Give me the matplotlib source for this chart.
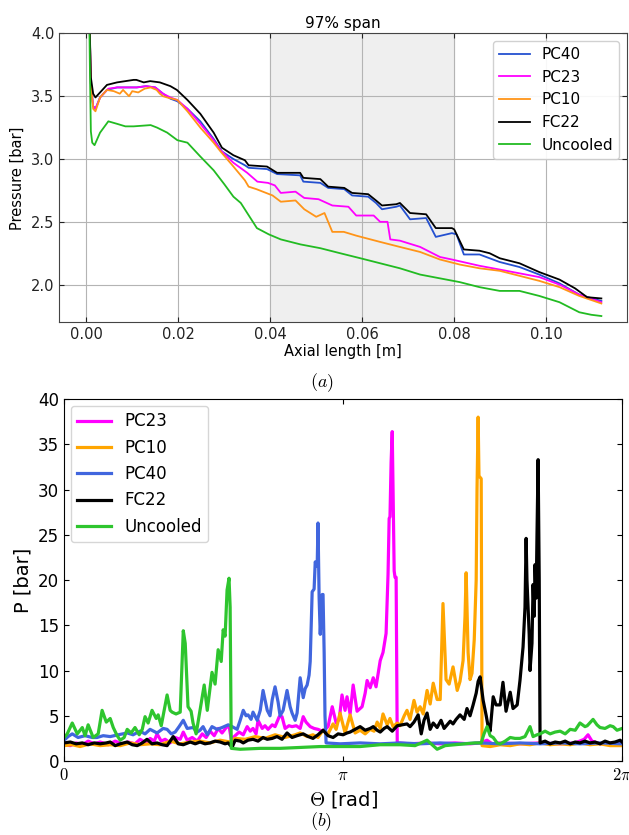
import numpy as np
import matplotlib
matplotlib.use("Agg")
import matplotlib.pyplot as plt

# ---- (a) pressure along axial length, 97% span: (x [m], p [bar]) ----
pc40_a = [(0.0006, 4.30), (0.0010, 3.60), (0.0015, 3.42), (0.0020, 3.40), (0.0030, 3.49),
          (0.0045, 3.55), (0.0067, 3.57), (0.0090, 3.57), (0.0110, 3.57), (0.0130, 3.58),
          (0.0150, 3.57), (0.0167, 3.52), (0.0183, 3.48), (0.0198, 3.46), (0.0220, 3.40),
          (0.0248, 3.30), (0.0277, 3.16), (0.0295, 3.06), (0.0320, 3.00), (0.0345, 2.95),
          (0.0353, 2.93), (0.0393, 2.92), (0.0415, 2.88), (0.0465, 2.87), (0.0472, 2.82),
          (0.0509, 2.81), (0.0526, 2.77), (0.0561, 2.76), (0.0578, 2.71), (0.0613, 2.70),
          (0.0630, 2.65), (0.0643, 2.60), (0.0674, 2.62), (0.0682, 2.63), (0.0704, 2.52),
          (0.0739, 2.53), (0.0760, 2.38), (0.0795, 2.41), (0.0805, 2.40), (0.0821, 2.24),
          (0.0855, 2.24), (0.0899, 2.18), (0.0942, 2.14), (0.0985, 2.08), (0.1029, 2.01),
          (0.1072, 1.92), (0.1120, 1.87)]
pc23_a = [(0.0006, 4.30), (0.0010, 3.60), (0.0015, 3.42), (0.0020, 3.40), (0.0030, 3.49),
          (0.0048, 3.56), (0.0067, 3.57), (0.0090, 3.57), (0.0110, 3.57), (0.0130, 3.58),
          (0.0150, 3.57), (0.0167, 3.52), (0.0183, 3.49), (0.0198, 3.47), (0.0220, 3.40),
          (0.0248, 3.28), (0.0277, 3.15), (0.0292, 3.07), (0.0320, 2.97), (0.0350, 2.89),
          (0.0372, 2.82), (0.0395, 2.81), (0.0410, 2.79), (0.0423, 2.73), (0.0455, 2.74),
          (0.0474, 2.69), (0.0505, 2.68), (0.0535, 2.63), (0.0570, 2.62), (0.0587, 2.55),
          (0.0625, 2.55), (0.0639, 2.50), (0.0655, 2.50), (0.0661, 2.36), (0.0682, 2.35),
          (0.0726, 2.30), (0.0769, 2.22), (0.0795, 2.20), (0.0855, 2.15), (0.0899, 2.12),
          (0.0942, 2.09), (0.0985, 2.06), (0.1029, 2.00), (0.1072, 1.92), (0.1120, 1.86)]
pc10_a = [(0.0006, 4.30), (0.0010, 3.60), (0.0015, 3.40), (0.0020, 3.38), (0.0030, 3.49),
          (0.0045, 3.55), (0.0060, 3.54), (0.0073, 3.52), (0.0080, 3.55), (0.0093, 3.50),
          (0.0100, 3.54), (0.0113, 3.53), (0.0127, 3.56), (0.0140, 3.57), (0.0153, 3.55),
          (0.0160, 3.52), (0.0167, 3.50), (0.0176, 3.49), (0.0198, 3.47), (0.0220, 3.38),
          (0.0248, 3.25), (0.0277, 3.13), (0.0292, 3.06), (0.0320, 2.94), (0.0345, 2.83),
          (0.0353, 2.78), (0.0370, 2.76), (0.0405, 2.71), (0.0423, 2.66), (0.0455, 2.67),
          (0.0474, 2.60), (0.0500, 2.54), (0.0518, 2.57), (0.0535, 2.42), (0.0560, 2.42),
          (0.0587, 2.39), (0.0639, 2.34), (0.0682, 2.30), (0.0726, 2.26), (0.0769, 2.20),
          (0.0812, 2.16), (0.0855, 2.13), (0.0899, 2.11), (0.0942, 2.07), (0.0985, 2.03),
          (0.1029, 1.98), (0.1072, 1.91), (0.1120, 1.85)]
fc22_a = [(0.0006, 4.30), (0.0010, 3.65), (0.0015, 3.52), (0.0020, 3.49), (0.0030, 3.53),
          (0.0045, 3.59), (0.0067, 3.61), (0.0085, 3.62), (0.0103, 3.63), (0.0109, 3.63),
          (0.0125, 3.61), (0.0139, 3.62), (0.0160, 3.61), (0.0183, 3.58), (0.0197, 3.55),
          (0.0220, 3.47), (0.0248, 3.36), (0.0277, 3.21), (0.0295, 3.09), (0.0320, 3.03),
          (0.0345, 2.99), (0.0353, 2.95), (0.0393, 2.94), (0.0415, 2.89), (0.0465, 2.89),
          (0.0472, 2.85), (0.0509, 2.84), (0.0526, 2.78), (0.0561, 2.77), (0.0578, 2.73),
          (0.0613, 2.72), (0.0630, 2.67), (0.0643, 2.63), (0.0674, 2.64), (0.0682, 2.65),
          (0.0704, 2.57), (0.0739, 2.56), (0.0760, 2.45), (0.0795, 2.45), (0.0800, 2.44),
          (0.0821, 2.28), (0.0855, 2.27), (0.0877, 2.25), (0.0899, 2.21), (0.0942, 2.17),
          (0.0985, 2.10), (0.1029, 2.04), (0.1063, 1.97), (0.1089, 1.90), (0.1120, 1.89)]
uncooled_a = [(0.0006, 4.30), (0.0008, 3.70), (0.0010, 3.22), (0.0013, 3.13), (0.0018, 3.11),
              (0.0030, 3.21), (0.0048, 3.30), (0.0067, 3.28), (0.0085, 3.26), (0.0103, 3.26),
              (0.0140, 3.27), (0.0154, 3.25), (0.0176, 3.21), (0.0198, 3.15), (0.0220, 3.13),
              (0.0248, 3.02), (0.0277, 2.91), (0.0300, 2.80), (0.0320, 2.70), (0.0336, 2.65),
              (0.0371, 2.45), (0.0397, 2.40), (0.0423, 2.36), (0.0466, 2.32), (0.0509, 2.29),
              (0.0552, 2.25), (0.0596, 2.21), (0.0639, 2.17), (0.0682, 2.13), (0.0726, 2.08),
              (0.0769, 2.05), (0.0812, 2.02), (0.0855, 1.98), (0.0899, 1.95), (0.0942, 1.95),
              (0.0985, 1.91), (0.1029, 1.86), (0.1072, 1.78), (0.1098, 1.76), (0.1120, 1.75)]

# ---- (b) pressure around the circumference: (theta / pi, p [bar]) ----
pc23_b = [(0.000, 1.8), (0.022, 1.7), (0.043, 2.0), (0.065, 1.8), (0.086, 2.2), (0.108, 1.9),
          (0.129, 2.1), (0.158, 1.8), (0.183, 2.2), (0.208, 1.9), (0.229, 2.1), (0.254, 1.9),
          (0.272, 2.4), (0.294, 2.0), (0.308, 2.5), (0.323, 2.2), (0.333, 3.0), (0.348, 2.2),
          (0.362, 2.4), (0.380, 2.0), (0.398, 2.6), (0.416, 2.4), (0.427, 3.2), (0.441, 2.3),
          (0.459, 2.6), (0.477, 2.2), (0.495, 3.0), (0.509, 2.6), (0.523, 3.3), (0.538, 2.8),
          (0.552, 3.6), (0.566, 3.1), (0.581, 3.7), (0.591, 3.9), (0.599, 2.4), (0.613, 2.8),
          (0.627, 3.2), (0.642, 2.9), (0.656, 3.8), (0.667, 3.3), (0.677, 3.6), (0.688, 3.0),
          (0.695, 4.5), (0.710, 3.6), (0.720, 3.9), (0.731, 3.5), (0.746, 4.0), (0.756, 3.8),
          (0.771, 4.9), (0.781, 4.9), (0.792, 3.6), (0.806, 3.9), (0.817, 3.8), (0.832, 3.9),
          (0.846, 3.6), (0.857, 4.9), (0.867, 4.3), (0.882, 3.8), (0.896, 3.6), (0.910, 3.5),
          (0.925, 3.3), (0.935, 3.5), (0.946, 3.8), (0.961, 6.0), (0.975, 4.2), (0.986, 4.6),
          (0.996, 7.3), (1.007, 5.6), (1.014, 7.1), (1.025, 5.2), (1.036, 8.4), (1.050, 5.5),
          (1.068, 6.0), (1.079, 7.5), (1.086, 8.9), (1.097, 8.1), (1.108, 9.2), (1.118, 8.2),
          (1.133, 11.1), (1.143, 12.0), (1.154, 14.1), (1.161, 20.6), (1.165, 26.8),
          (1.168, 27.0), (1.172, 33.0), (1.176, 36.4), (1.179, 30.0), (1.183, 21.0),
          (1.186, 20.3), (1.190, 20.3), (1.194, 2.0), (1.240, 1.9), (1.294, 2.0), (1.348, 1.9),
          (1.401, 2.0), (1.455, 1.9), (1.491, 2.0), (1.516, 2.3), (1.534, 1.9), (1.563, 2.0),
          (1.634, 1.9), (1.706, 2.0), (1.778, 1.9), (1.832, 2.0), (1.864, 2.4), (1.878, 2.9),
          (1.892, 2.2), (1.921, 1.9), (1.964, 2.0), (2.000, 1.9)]
pc10_b = [(0.000, 1.7), (0.029, 1.8), (0.057, 1.6), (0.093, 1.9), (0.129, 1.7), (0.165, 1.8),
          (0.201, 1.7), (0.237, 2.0), (0.272, 1.8), (0.308, 1.9), (0.344, 1.8), (0.380, 2.2),
          (0.416, 1.9), (0.452, 2.1), (0.487, 2.2), (0.523, 2.0), (0.559, 2.3), (0.595, 2.1),
          (0.613, 2.5), (0.649, 2.4), (0.685, 2.7), (0.720, 2.5), (0.756, 2.9), (0.792, 2.6),
          (0.828, 2.9), (0.846, 3.1), (0.871, 2.7), (0.892, 2.9), (0.910, 2.6), (0.928, 3.4),
          (0.946, 3.0), (0.964, 4.1), (0.975, 3.5), (0.989, 5.3), (1.007, 3.1), (1.025, 5.1),
          (1.043, 3.1), (1.061, 3.4), (1.079, 3.0), (1.097, 3.5), (1.111, 3.3), (1.122, 4.3),
          (1.133, 3.6), (1.143, 5.2), (1.158, 4.0), (1.168, 4.7), (1.179, 3.8), (1.194, 4.2),
          (1.204, 3.9), (1.219, 5.0), (1.229, 5.6), (1.240, 4.6), (1.254, 6.7), (1.265, 5.4),
          (1.276, 6.0), (1.287, 5.2), (1.301, 7.8), (1.312, 6.3), (1.323, 8.6), (1.337, 6.8),
          (1.348, 6.8), (1.358, 17.4), (1.369, 9.0), (1.380, 8.5), (1.394, 10.4), (1.409, 7.8),
          (1.419, 8.8), (1.430, 11.1), (1.437, 16.0), (1.441, 20.8), (1.448, 12.0),
          (1.455, 9.0), (1.462, 9.7), (1.470, 13.4), (1.477, 20.0), (1.480, 30.0),
          (1.484, 38.0), (1.487, 31.5), (1.495, 31.2), (1.498, 1.7), (1.527, 1.6), (1.563, 1.8),
          (1.599, 1.7), (1.634, 1.9), (1.670, 1.8), (1.706, 2.0), (1.742, 1.8), (1.778, 1.9),
          (1.814, 1.8), (1.849, 2.0), (1.885, 1.8), (1.921, 1.9), (1.957, 1.7), (2.000, 1.7)]
pc40_b = [(0.000, 2.3), (0.014, 2.7), (0.029, 3.0), (0.050, 2.6), (0.075, 2.8), (0.100, 2.6),
          (0.118, 2.6), (0.140, 2.8), (0.165, 2.7), (0.194, 2.9), (0.226, 3.1), (0.247, 2.9),
          (0.272, 3.3), (0.290, 3.0), (0.308, 3.5), (0.333, 3.1), (0.355, 3.6), (0.369, 3.5),
          (0.384, 3.0), (0.398, 3.2), (0.412, 3.8), (0.427, 4.5), (0.441, 3.6), (0.462, 3.7),
          (0.477, 3.2), (0.487, 3.4), (0.498, 3.8), (0.513, 2.9), (0.530, 3.8), (0.548, 3.5),
          (0.566, 3.7), (0.588, 4.0), (0.602, 3.8), (0.620, 3.5), (0.631, 4.5), (0.642, 5.6),
          (0.652, 5.0), (0.659, 5.1), (0.670, 4.6), (0.677, 5.4), (0.692, 4.5), (0.703, 5.6),
          (0.713, 7.8), (0.728, 5.6), (0.738, 5.0), (0.746, 6.8), (0.756, 8.2), (0.767, 6.5),
          (0.774, 5.0), (0.785, 5.6), (0.799, 7.8), (0.810, 6.0), (0.817, 5.3), (0.828, 4.5),
          (0.835, 5.3), (0.846, 9.2), (0.857, 7.0), (0.864, 8.0), (0.871, 8.4), (0.878, 9.5),
          (0.882, 11.0), (0.889, 18.7), (0.896, 19.0), (0.900, 22.0), (0.907, 21.5),
          (0.910, 26.3), (0.914, 18.0), (0.918, 14.0), (0.921, 16.0), (0.925, 18.4),
          (0.928, 18.4), (0.932, 12.0), (0.935, 5.0), (0.939, 2.0), (0.989, 1.9), (1.061, 2.0),
          (1.133, 1.9), (1.204, 2.0), (1.276, 1.9), (1.348, 2.0), (1.419, 1.9), (1.491, 2.0),
          (1.563, 1.9), (1.634, 2.0), (1.706, 1.9), (1.778, 2.0), (1.849, 1.9), (1.921, 2.0),
          (2.000, 1.9)]
fc22_b = [(0.000, 2.0), (0.022, 2.1), (0.043, 1.9), (0.065, 2.0), (0.086, 1.8), (0.108, 2.0),
          (0.129, 1.9), (0.151, 2.0), (0.165, 2.1), (0.183, 1.7), (0.201, 1.9), (0.226, 2.1),
          (0.244, 1.8), (0.262, 1.7), (0.280, 2.0), (0.297, 2.4), (0.315, 1.9), (0.333, 2.0),
          (0.351, 1.8), (0.369, 1.7), (0.391, 2.7), (0.409, 1.9), (0.427, 1.8), (0.452, 2.1),
          (0.470, 1.9), (0.487, 2.1), (0.505, 1.9), (0.523, 2.0), (0.541, 2.2), (0.559, 2.1),
          (0.577, 1.9), (0.588, 2.0), (0.602, 1.5), (0.613, 2.3), (0.631, 2.2), (0.642, 2.0),
          (0.659, 2.3), (0.677, 2.4), (0.695, 2.2), (0.713, 2.6), (0.728, 2.4), (0.746, 2.5),
          (0.763, 2.7), (0.781, 2.4), (0.799, 3.1), (0.817, 2.6), (0.835, 2.8), (0.857, 3.0),
          (0.875, 2.7), (0.892, 2.5), (0.910, 2.9), (0.928, 3.4), (0.946, 2.8), (0.964, 2.6),
          (0.982, 3.0), (1.000, 2.9), (1.014, 3.1), (1.025, 3.2), (1.043, 3.5), (1.061, 3.8),
          (1.079, 3.4), (1.097, 3.6), (1.108, 3.8), (1.122, 3.4), (1.133, 3.2), (1.147, 3.6),
          (1.158, 3.8), (1.176, 3.3), (1.194, 3.9), (1.211, 4.0), (1.229, 4.1), (1.240, 3.8),
          (1.254, 4.3), (1.269, 5.1), (1.280, 3.0), (1.290, 4.5), (1.301, 5.3), (1.312, 3.5),
          (1.323, 4.2), (1.337, 3.7), (1.351, 4.5), (1.362, 3.6), (1.373, 4.0), (1.384, 4.4),
          (1.394, 4.1), (1.405, 4.6), (1.419, 5.1), (1.434, 4.6), (1.444, 5.8), (1.455, 5.0),
          (1.466, 6.2), (1.477, 7.5), (1.484, 8.8), (1.491, 9.3), (1.502, 6.7), (1.513, 5.0),
          (1.520, 3.8), (1.527, 3.3), (1.538, 7.1), (1.548, 6.2), (1.563, 6.2), (1.573, 8.7),
          (1.584, 5.5), (1.599, 7.6), (1.609, 5.8), (1.624, 6.2), (1.634, 8.9), (1.645, 12.6),
          (1.652, 17.0), (1.656, 24.6), (1.659, 20.0), (1.667, 14.0), (1.670, 10.0),
          (1.677, 13.0), (1.681, 19.5), (1.685, 16.0), (1.688, 21.7), (1.692, 18.0),
          (1.695, 25.0), (1.699, 33.3), (1.703, 20.0), (1.706, 2.0), (1.724, 2.2), (1.742, 1.9),
          (1.760, 2.1), (1.778, 2.0), (1.796, 2.2), (1.814, 1.9), (1.832, 2.1), (1.849, 2.0),
          (1.867, 2.2), (1.885, 2.0), (1.903, 2.1), (1.921, 1.9), (1.939, 2.2), (1.957, 2.0),
          (1.975, 2.1), (1.993, 2.3), (2.000, 2.1)]
uncooled_b = [(0.000, 2.6), (0.011, 3.0), (0.029, 4.2), (0.047, 3.0), (0.065, 3.7), (0.075, 2.8),
              (0.086, 4.0), (0.104, 2.6), (0.122, 3.0), (0.136, 5.6), (0.151, 4.3), (0.165, 4.7),
              (0.176, 3.7), (0.190, 2.8), (0.201, 2.3), (0.215, 2.6), (0.226, 3.5), (0.240, 3.1),
              (0.254, 3.7), (0.269, 2.9), (0.280, 3.5), (0.290, 4.9), (0.301, 4.2), (0.315, 5.6),
              (0.330, 4.7), (0.337, 5.1), (0.348, 3.9), (0.369, 7.3), (0.380, 5.6), (0.387, 5.4),
              (0.401, 5.2), (0.416, 5.4), (0.427, 14.4), (0.434, 13.0), (0.444, 6.0),
              (0.455, 5.5), (0.462, 4.2), (0.473, 3.0), (0.487, 5.6), (0.502, 8.4), (0.513, 5.6),
              (0.530, 9.8), (0.541, 8.5), (0.552, 12.3), (0.563, 11.0), (0.570, 14.5),
              (0.577, 13.8), (0.584, 18.9), (0.591, 20.2), (0.595, 17.0), (0.599, 1.4),
              (0.631, 1.3), (0.703, 1.4), (0.774, 1.4), (0.846, 1.5), (0.918, 1.6), (0.989, 1.6),
              (1.061, 1.6), (1.133, 1.8), (1.204, 1.8), (1.258, 1.7), (1.301, 2.3), (1.319, 1.8),
              (1.337, 1.3), (1.366, 1.7), (1.401, 1.8), (1.437, 1.9), (1.473, 2.0), (1.495, 2.0),
              (1.505, 3.0), (1.516, 3.8), (1.527, 2.8), (1.538, 2.6), (1.552, 2.0), (1.563, 1.9),
              (1.581, 2.2), (1.599, 2.6), (1.616, 2.5), (1.634, 2.5), (1.652, 2.7), (1.670, 3.8),
              (1.681, 2.7), (1.695, 2.9), (1.706, 3.0), (1.724, 3.3), (1.742, 3.0), (1.760, 3.2),
              (1.778, 3.3), (1.796, 3.0), (1.814, 3.5), (1.832, 3.4), (1.849, 4.2), (1.867, 3.8),
              (1.875, 3.9), (1.896, 4.6), (1.910, 4.0), (1.921, 3.7), (1.939, 3.6), (1.957, 3.9),
              (1.968, 3.8), (1.982, 3.4), (2.000, 3.6)]

plt.rcParams['mathtext.fontset'] = 'cm'

fig = plt.figure(figsize=(6.29, 8.35), dpi=100)

# ---------- top panel ----------
ax1 = fig.add_axes([0.094, 0.614, 0.903, 0.346])
ax1.axvspan(0.04, 0.08, color='#efefef', zorder=0)
top_series = [(pc40_a, 'PC40', '#2450d0'), (pc23_a, 'PC23', '#ff00ff'),
              (pc10_a, 'PC10', '#ff9418'), (fc22_a, 'FC22', 'black'),
              (uncooled_a, 'Uncooled', '#22bb22')]
for data, name, col in top_series:
    xs, ps = zip(*data)
    ax1.plot(xs, ps, color=col, lw=1.3, label=name)
ax1.set_xlim(-0.0059, 0.1176)
ax1.set_ylim(1.70, 4.0)
ax1.set_xticks([0.0, 0.02, 0.04, 0.06, 0.08, 0.10])
ax1.set_yticks([2.0, 2.5, 3.0, 3.5, 4.0])
ax1.grid(True, color='#b4b4b4', lw=0.8)
ax1.set_axisbelow(True)
ax1.tick_params(direction='in', top=True, right=True, labelsize=10.5, colors='#222222')
for sp in ax1.spines.values():
    sp.set_color('#444444')
ax1.set_xlabel('Axial length [m]', fontsize=10.5, labelpad=1)
ax1.set_ylabel('Pressure [bar]', fontsize=10.5)
ax1.set_title('97% span', fontsize=11, pad=4)
ax1.legend(loc='upper right', fontsize=11, framealpha=0.9, borderaxespad=0.5)

fig.text(0.511, 0.542, '$(a)$', fontsize=13, ha='center', va='center')

# ---------- bottom panel ----------
ax2 = fig.add_axes([0.102, 0.0886, 0.887, 0.4335])
bottom_series = [(pc23_b, 'PC23', '#ff00ff'), (pc10_b, 'PC10', '#ffa500'),
                 (pc40_b, 'PC40', '#4166de'), (fc22_b, 'FC22', 'black'),
                 (uncooled_b, 'Uncooled', '#2ec52e')]
for data, name, col in bottom_series:
    ts, ps = zip(*data)
    ax2.plot(np.array(ts) * np.pi, ps, color=col, lw=2.3, label=name)
ax2.set_xlim(0, 2 * np.pi)
ax2.set_ylim(0, 40)
ax2.set_xticks([0, np.pi, 2 * np.pi])
ax2.set_xticklabels(['$0$', r'$\pi$', r'$2\pi$'], fontsize=11.5)
ax2.set_yticks(np.arange(0, 41, 5))
ax2.tick_params(direction='in', top=True, right=True, labelsize=12)
ax2.set_xlabel(r'$\Theta$ [rad]', fontsize=14)
ax2.set_ylabel('P [bar]', fontsize=14)
ax2.legend(loc='upper left', fontsize=12, borderaxespad=0.4)

fig.text(0.511, 0.016, '$(b)$', fontsize=13, ha='center', va='center')

fig.savefig('out.png', dpi=100)
